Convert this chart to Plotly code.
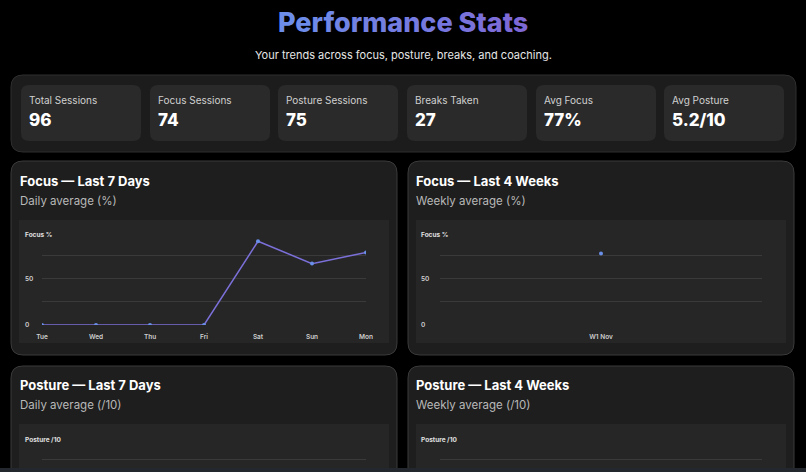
import plotly.graph_objects as go

W, H = 806, 472
def X(px): return px / W
def Y(py): return 1 - py / H

# ---------------- data ----------------
title_text = "Performance Stats"
subtitle_text = "Your trends across focus, posture, breaks, and coaching."

stat_labels = ["Total Sessions", "Focus Sessions", "Posture Sessions",
               "Breaks Taken", "Avg Focus", "Avg Posture"]
stat_values = ["96", "74", "75", "27", "77%", "5.2/10"]

days = ["Tue", "Wed", "Thu", "Fri", "Sat", "Sun", "Mon"]
focus_daily = [0, 0, 0, 0, 90, 66, 78]

weeks = ["W1 Nov"]
focus_weekly = [77]

focus_ticks = [0, 25, 50, 75, 100]
focus_tick_labels = ["0", "", "50", "", ""]
posture_ticks = [0, 2.5, 5, 7.5, 10]
posture_tick_labels = ["0", "", "5", "", ""]

card_titles = ["Focus — Last 7 Days", "Focus — Last 4 Weeks",
               "Posture — Last 7 Days", "Posture — Last 4 Weeks"]
card_subtitles = ["Daily average (%)", "Weekly average (%)",
                  "Daily average (/10)", "Weekly average (/10)"]
axis_titles = ["Focus %", "Focus %", "Posture /10", "Posture /10"]

# ---------------- style ----------------
FONT = "Inter"
BG = "#000000"
CONTAINER = "#1c1c1c"
STAT_CARD = "#2a2a2a"
CARD = "#1e1e1e"
CARD_BORDER = "#3a3a3a"
PANEL = "#262626"
GRID = "#3a3a3a"
LINE = "#7b70d9"
MARK = "#6a8fe8"
TICK = "#cfcfcf"

def rrect(x0, y0, x1, y1, r, fill, line=None, lw=0):
    rx, ry = r / W, r / H
    a, b, c, d = X(x0), X(x1), Y(y0), Y(y1)
    path = (f"M {a+rx},{c} L {b-rx},{c} Q {b},{c} {b},{c-ry} L {b},{d+ry} "
            f"Q {b},{d} {b-rx},{d} L {a+rx},{d} Q {a},{d} {a},{d+ry} "
            f"L {a},{c-ry} Q {a},{c} {a+rx},{c} Z")
    return dict(type="path", xref="paper", yref="paper", path=path,
                fillcolor=fill, line=dict(color=line or fill, width=lw),
                layer="below")

shapes = []
annotations = []

def ann(**kw):
    kw.setdefault("showarrow", False)
    kw.setdefault("borderpad", 0)
    kw.setdefault("borderwidth", 0)
    annotations.append(kw)

# title with gradient
c0 = (108, 142, 234)
c1 = (126, 104, 214)
n = len(title_text)
parts = []
for i, ch in enumerate(title_text):
    t = i / (n - 1)
    col = tuple(round(c0[k] + (c1[k] - c0[k]) * t) for k in range(3))
    parts.append(f'<span style="color:rgb{col}">{ch}</span>')
ann(x=X(403), y=Y(23), xref="paper", yref="paper", text="".join(parts),
    font=dict(family=FONT, size=27, weight=800), xanchor="center", yanchor="middle")
ann(x=X(403), y=Y(55), xref="paper", yref="paper", text=subtitle_text,
    font=dict(family=FONT, size=11, color="#e6e6e6"), xanchor="center", yanchor="middle")

# stats container
shapes.append(rrect(11, 75, 796, 152, 12, CONTAINER, "#2e2e2e", 1))
card_lefts = [21, 150, 278, 407, 536, 664]
for i, (lab, val) in enumerate(zip(stat_labels, stat_values)):
    x0 = card_lefts[i]
    shapes.append(rrect(x0, 85, x0 + 120, 141, 8, STAT_CARD))
    ann(x=X(x0 + 8), y=Y(100), xref="paper", yref="paper", text=lab,
        xanchor="left", yanchor="middle",
        font=dict(family=FONT, size=10, color="#d0d0d0"))
    ann(x=X(x0 + 8), y=Y(120), xref="paper", yref="paper", text=val,
        xanchor="left", yanchor="middle",
        font=dict(family=FONT, size=17, weight=800, color="#ffffff"))

# chart cards
cards = [
    dict(x0=11, y0=161, x1=397, y1=355, tx=20, ty=181, sy=201, p0=19, p1=389, pt=220, pb=343, ax=25, ay=235),
    dict(x0=408, y0=161, x1=794, y1=355, tx=416, ty=181, sy=201, p0=416, p1=786, pt=220, pb=343, ax=421, ay=235),
    dict(x0=11, y0=366, x1=397, y1=490, tx=20, ty=385, sy=405, p0=19, p1=389, pt=424, pb=490, ax=25, ay=440),
    dict(x0=408, y0=366, x1=794, y1=490, tx=416, ty=385, sy=405, p0=416, p1=786, pt=424, pb=490, ax=421, ay=440),
]
for i, c in enumerate(cards):
    shapes.append(rrect(c["x0"], c["y0"], c["x1"], c["y1"], 12, CARD, CARD_BORDER, 1))
    shapes.append(dict(type="rect", xref="paper", yref="paper",
                       x0=X(c["p0"]), x1=X(c["p1"]), y0=Y(c["pb"]), y1=Y(c["pt"]),
                       fillcolor=PANEL, line=dict(width=0), layer="below"))
    ann(x=X(c["tx"]), y=Y(c["ty"]), xref="paper", yref="paper", text=card_titles[i],
        xanchor="left", yanchor="middle",
        font=dict(family=FONT, size=13, weight=700, color="#ffffff"))
    ann(x=X(c["tx"]), y=Y(c["sy"]), xref="paper", yref="paper", text=card_subtitles[i],
        xanchor="left", yanchor="middle",
        font=dict(family=FONT, size=11.5, color="#b8b8b8"))

# ---------------- axes ----------------
tickfont = dict(family=FONT, size=6.5, color=TICK, weight=600)
focus_ydom = [Y(325), Y(232)]
post_top = 436
post_px_per_unit = 93 / 10
post_ydom = [0, Y(post_top)]
post_range = [10 - (H - post_top) / post_px_per_unit, 10]

def xax(dom, cats, rng, labels=True):
    return dict(domain=[X(dom[0]), X(dom[1])], type="category", categoryarray=cats,
                range=rng, showgrid=False, zeroline=False, showline=False, ticks="",
                showticklabels=labels, automargin=False,
                tickfont=tickfont, ticklabelstandoff=6, fixedrange=True)

def yax(dom, rng, tv, anchor):
    return dict(domain=dom, range=rng, tickvals=tv, showticklabels=False,
                showgrid=True, gridcolor=GRID, gridwidth=1, zeroline=False,
                showline=False, ticks="", anchor=anchor, fixedrange=True,
                automargin=False)

layout_axes = dict(
    xaxis=xax((42, 366), days, [0, 6]),
    yaxis=yax(focus_ydom, [0, 100], focus_ticks, "x"),
    xaxis2=xax((440, 762), weeks, [-0.5, 0.5]),
    yaxis2=yax(focus_ydom, [0, 100], focus_ticks, "x2"),
    xaxis3=xax((42, 366), days, [0, 6], labels=False),
    yaxis3=yax(post_ydom, post_range, posture_ticks, "x3"),
    xaxis4=xax((440, 762), weeks, [-0.5, 0.5], labels=False),
    yaxis4=yax(post_ydom, post_range, posture_ticks, "x4"),
)
for k in ("xaxis", "xaxis2", "xaxis3", "xaxis4"):
    layout_axes[k]["anchor"] = "y" + k[5:]

# y tick labels (left aligned like the original)
ytick_sets = [("y", focus_ticks, focus_tick_labels, 25),
              ("y2", focus_ticks, focus_tick_labels, 421),
              ("y3", posture_ticks, posture_tick_labels, 25),
              ("y4", posture_ticks, posture_tick_labels, 421)]
for yref, tv, tt, xpx in ytick_sets:
    for v, t in zip(tv, tt):
        if not t:
            continue
        ann(x=X(xpx), y=v, xref="paper", yref=yref, text=t,
            xanchor="left", yanchor="middle", font=tickfont)
for i, c in enumerate(cards):
    ann(x=X(c["ax"]), y=Y(c["ay"]), xref="paper", yref="paper", text=axis_titles[i],
        xanchor="left", yanchor="middle",
        font=dict(family=FONT, size=6.5, weight=700, color="#e0e0e0"))

# bottom blurred strip
shapes.append(dict(type="rect", xref="paper", yref="paper", x0=0, x1=1,
                   y0=Y(472), y1=Y(468), fillcolor="#23272e", line=dict(width=0), layer="above"))

fig = go.Figure()
fig.add_trace(go.Scatter(x=days, y=focus_daily, mode="lines+markers",
                         line=dict(color=LINE, width=1.5),
                         marker=dict(color=MARK, size=4), xaxis="x", yaxis="y",
                         hoverinfo="x+y"))
fig.add_trace(go.Scatter(x=weeks, y=focus_weekly, mode="lines+markers",
                         line=dict(color=LINE, width=1.5),
                         marker=dict(color=MARK, size=4), xaxis="x2", yaxis="y2"))
fig.add_trace(go.Scatter(x=[], y=[], mode="lines+markers", xaxis="x3", yaxis="y3"))
fig.add_trace(go.Scatter(x=[], y=[], mode="lines+markers", xaxis="x4", yaxis="y4"))

fig.update_layout(
    width=W, height=H, margin=dict(l=0, r=0, t=0, b=0, pad=0, autoexpand=False),
    paper_bgcolor=BG, plot_bgcolor="rgba(0,0,0,0)",
    showlegend=False, shapes=shapes, annotations=annotations,
    font=dict(family=FONT, color="#ffffff"),
    **layout_axes,
)
post = ("document.documentElement.style.margin='0';"
        "document.documentElement.style.overflow='hidden';"
        "document.body.style.margin='0';document.body.style.padding='0';"
        "document.body.style.overflow='hidden';document.body.style.background='#000';"
        "var d=document.getElementsByClassName('plotly-graph-div')[0];"
        "d.style.position='absolute';d.style.left='0px';d.style.top='0px';")
fig.write_html("out.html", config={"displayModeBar": False}, post_script=post)
